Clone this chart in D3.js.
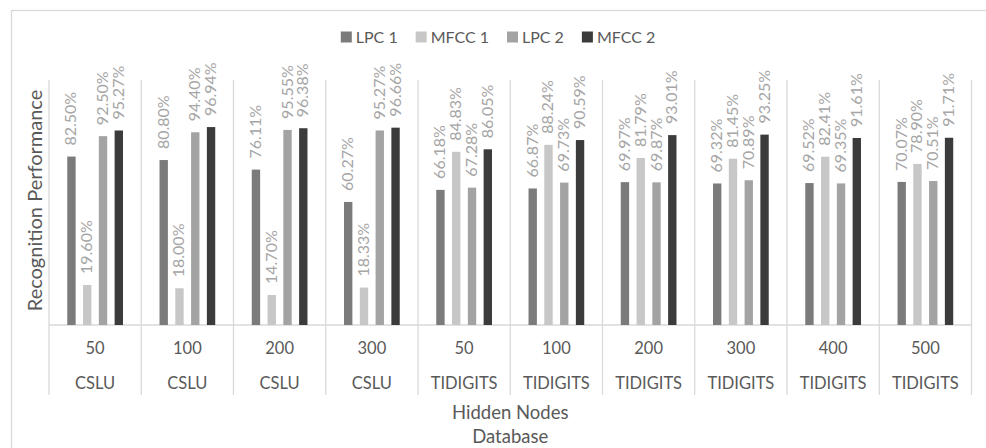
<!DOCTYPE html>
<html>
<head>
<meta charset="utf-8">
<script src="https://cdn.jsdelivr.net/npm/d3@7"></script>
<style>
  body { margin: 0; background: #fff; }
  svg { font-family: Lato, "Open Sans", sans-serif; }
</style>
</head>
<body>
<div class="canvas"></div>
<script>
// data
const hiddenNodes = ['50', '100', '200', '300', '50', '100', '200', '300', '400', '500'];
const databases = ['CSLU', 'CSLU', 'CSLU', 'CSLU', 'TIDIGITS', 'TIDIGITS', 'TIDIGITS', 'TIDIGITS', 'TIDIGITS', 'TIDIGITS'];
const seriesNames = ['LPC 1', 'MFCC 1', 'LPC 2', 'MFCC 2'];
const lpc1 = [82.50, 80.80, 76.11, 60.27, 66.18, 66.87, 69.97, 69.32, 69.52, 70.07];
const mfcc1 = [19.60, 18.00, 14.70, 18.33, 84.83, 88.24, 81.79, 81.45, 82.41, 78.90];
const lpc2 = [92.50, 94.40, 95.55, 95.27, 67.28, 69.73, 69.87, 70.89, 69.35, 70.51];
const mfcc2 = [95.27, 96.94, 96.38, 96.66, 86.05, 90.59, 93.01, 93.25, 91.61, 91.71];
const yDomain = [0, 120];

const seriesValues = [lpc1, mfcc1, lpc2, mfcc2];
const colors = ['#7b7b7b', '#c7c7c7', '#a3a3a3', '#3b3b3b'];

const width = 986, height = 448;
const margin = { top: 80, left: 49, right: 14.5, bottom: 123 };
const plotW = width - margin.left - margin.right;
const plotH = height - margin.top - margin.bottom;

const svg = d3.select('.canvas')
  .append('svg')
  .attr('width', width)
  .attr('height', height);

// chart border (right and bottom edges fall outside the picture)
svg.append('rect')
  .attr('x', 11.5).attr('y', 10.5)
  .attr('width', 990).attr('height', 450)
  .attr('fill', 'none')
  .attr('stroke', '#d9d9d9')
  .attr('stroke-width', 1.3);

const graph = svg.append('g')
  .attr('transform', `translate(${margin.left}, ${margin.top})`);

const groups = hiddenNodes.map((d, i) => i);

const x0 = d3.scaleBand()
  .domain(groups)
  .range([0, plotW]);

const gw = x0.bandwidth();
const x1 = d3.scaleBand()
  .domain(seriesNames)
  .range([gw * 0.198, gw * 0.802])
  .paddingInner(0.47)
  .paddingOuter(0);

const y = d3.scaleLinear()
  .domain(yDomain)
  .range([plotH, 0]);

// group dividers, running through the plot and down through the labels
const bounds = groups.map(i => x0(i)).concat([plotW]);
graph.selectAll('line.divider')
  .data(bounds)
  .enter().append('line')
  .attr('class', 'divider')
  .attr('x1', d => d).attr('x2', d => d)
  .attr('y1', 0).attr('y2', plotH + 70)
  .attr('stroke', '#d9d9d9')
  .attr('stroke-width', 1.3);

// baseline
graph.append('line')
  .attr('x1', 0).attr('x2', plotW)
  .attr('y1', plotH).attr('y2', plotH)
  .attr('stroke', '#d9d9d9')
  .attr('stroke-width', 1.3);

// bars
const rows = [];
groups.forEach(g => {
  seriesNames.forEach((s, k) => {
    rows.push({ g, s, k, v: seriesValues[k][g] });
  });
});

graph.selectAll('rect.bar')
  .data(rows)
  .enter().append('rect')
  .attr('class', 'bar')
  .attr('x', d => x0(d.g) + x1(d.s))
  .attr('width', x1.bandwidth())
  .attr('y', d => y(d.v))
  .attr('height', d => plotH - y(d.v))
  .attr('fill', d => colors[d.k]);

// rotated value labels
graph.selectAll('text.val')
  .data(rows)
  .enter().append('text')
  .attr('class', 'val')
  .attr('transform', d => {
    const cx = x0(d.g) + x1(d.s) + x1.bandwidth() / 2 + 5;
    return `translate(${cx}, ${y(d.v) - 11}) rotate(-90)`;
  })
  .attr('fill', '#a6a6a6')
  .attr('font-size', 16)
  .text(d => d.v.toFixed(2) + '%');

// two-level category labels
graph.selectAll('text.nodes')
  .data(groups)
  .enter().append('text')
  .attr('x', d => x0(d) + gw / 2)
  .attr('y', plotH + 29)
  .attr('text-anchor', 'middle')
  .attr('fill', '#595959')
  .attr('font-size', 16.5)
  .text(d => hiddenNodes[d]);

graph.selectAll('text.db')
  .data(groups)
  .enter().append('text')
  .attr('x', d => x0(d) + gw / 2)
  .attr('y', plotH + 64)
  .attr('text-anchor', 'middle')
  .attr('fill', '#595959')
  .attr('font-size', 16.5)
  .text(d => databases[d]);

// axis titles
graph.append('text')
  .attr('x', plotW / 2)
  .attr('y', plotH + 93.5)
  .attr('text-anchor', 'middle')
  .attr('fill', '#595959')
  .attr('font-size', 18.5)
  .text('Hidden Nodes');

graph.append('text')
  .attr('x', plotW / 2)
  .attr('y', plotH + 117.7)
  .attr('text-anchor', 'middle')
  .attr('fill', '#595959')
  .attr('font-size', 18.5)
  .text('Database');

svg.append('text')
  .attr('transform', `translate(42, ${margin.top + plotH / 2 - 2}) rotate(-90)`)
  .attr('text-anchor', 'middle')
  .attr('fill', '#595959')
  .attr('font-size', 20)
  .text('Recognition Performance');

// legend
const legend = svg.append('g');
let lx = 0;
seriesNames.forEach((s, k) => {
  const item = legend.append('g').attr('transform', `translate(${lx}, 0)`);
  item.append('rect')
    .attr('x', 0).attr('y', 31.5)
    .attr('width', 11).attr('height', 11)
    .attr('fill', colors[k]);
  const t = item.append('text')
    .attr('x', 15).attr('y', 43)
    .attr('fill', '#595959')
    .attr('font-size', 16)
    .text(s);
  lx += 15 + t.node().getComputedTextLength() + 18;
});
const legendW = lx - 18;
legend.attr('transform', `translate(${498 - legendW / 2}, 0)`);
</script>
</body>
</html>
